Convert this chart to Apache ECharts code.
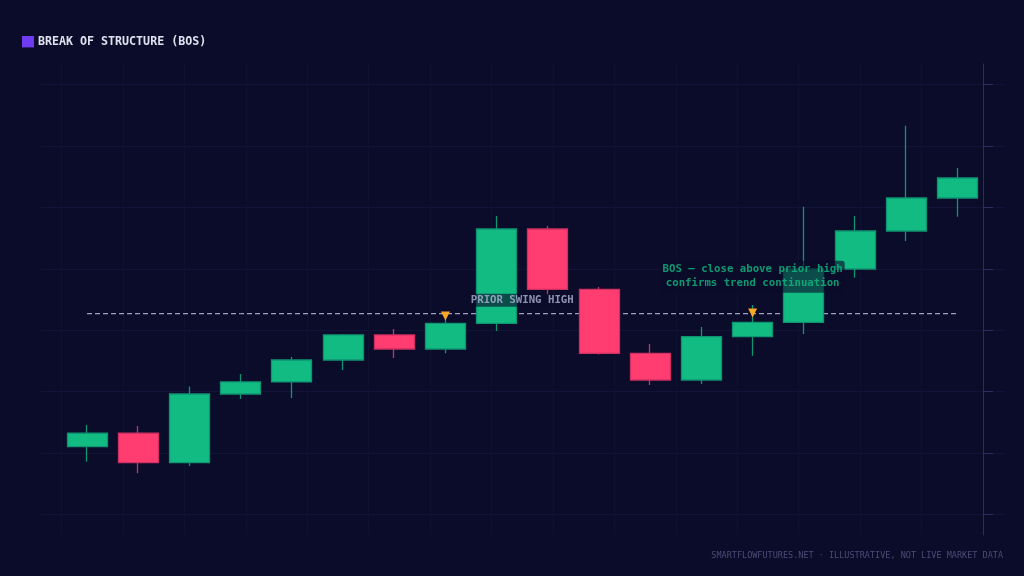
<!DOCTYPE html>
<html><head><meta charset="utf-8">
<style>html,body{margin:0;padding:0;background:#0a0c2a}#c{width:1024px;height:576px}</style>
<script src="https://cdn.jsdelivr.net/npm/echarts@6/dist/echarts.min.js"></script>
</head><body><div id="c"></div>
<script>
const categories = ['C1','C2','C3','C4','C5','C6','C7','C8','C9','C10','C11','C12','C13','C14','C15','C16','C17','C18'];
const opens  = [11.05,13.23, 8.44,19.62,21.58,25.16,29.23,26.95,31.13,46.48,36.66,26.25,21.90,28.95,31.29,39.97,46.15,51.52];
const closes = [13.23, 8.44,19.62,21.58,25.16,29.23,26.95,31.13,46.48,36.66,26.25,21.90,28.95,31.29,39.97,46.15,51.52,54.78];
const lows   = [ 8.60, 6.72, 7.90,18.81,18.97,23.53,25.48,26.25,29.88,35.74,26.05,21.09,21.25,25.86,29.39,38.55,44.52,48.48];
const highs  = [14.58,14.41,20.84,22.88,25.64,29.39,30.20,31.83,48.59,46.97,37.04,27.76,30.53,34.11,50.11,48.59,63.29,56.41];
const swingLevel = 32.69;
const swingMarkers = [['C8',32.32],['C14',32.80]];
const priorLabel = {x:9, y:34.87, text:'PRIOR SWING HIGH'};
const bosLabel = {x:13.5, y:38.72, text:'BOS — close above prior high\nconfirms trend continuation'};
const titleText = 'BREAK OF STRUCTURE (BOS)';
const footerText = 'SMARTFLOWFUTURES.NET · ILLUSTRATIVE, NOT LIVE MARKET DATA';

const MONO = '"DejaVu Sans Mono", monospace';
const BG = '#0a0c2a', GRID = '#111338', AXIS = '#2a2d62';
const UP = '#12bb82', DOWN = '#ff3d71', UPB = '#0f9472', DOWNB = '#d02f62';
const PL = 61.44, PR = 1024-983.04, PT = 84.48, PB = 576-514.56;
const hidden = {axisLine:{show:false},axisTick:{show:false},axisLabel:{show:false},splitLine:{show:false}};

const chart = echarts.init(document.getElementById('c'), null, {renderer:'canvas'});
chart.setOption({
  animation:false,
  backgroundColor:BG,
  title:[
    {text:titleText,left:38,top:36,padding:0,textStyle:{fontFamily:MONO,fontSize:11.65,fontWeight:'bold',color:'#dfe1ee'}},
    {text:footerText,right:21,top:551.5,padding:0,textStyle:{fontFamily:MONO,fontSize:8.5,fontWeight:'normal',color:'#4a4d76'}}
  ],
  graphic:[{type:'rect',shape:{x:22,y:36,width:12,height:11.4},style:{fill:'#6f3cf4'},z:10}],
  grid:[
    {left:PL,right:PR,top:64,bottom:576-535.04},
    {left:41,right:20,top:PT,bottom:PB},
    {left:PL,right:PR,top:PT,bottom:PB}
  ],
  xAxis:[
    {...hidden,gridIndex:0,type:'value',min:0,max:15,interval:1,splitLine:{show:true,lineStyle:{color:'#0f1133',width:1}}},
    {...hidden,gridIndex:1,type:'value',min:0,max:1},
    {...hidden,gridIndex:2,type:'category',data:categories},
    {...hidden,gridIndex:2,type:'value',min:0,max:18}
  ],
  yAxis:[
    {...hidden,gridIndex:0,type:'value',position:'right',min:0,max:1,axisLine:{show:true,onZero:false,lineStyle:{color:AXIS,width:1}}},
    {...hidden,gridIndex:1,type:'value',min:0,max:70,interval:10,splitLine:{show:true,lineStyle:{color:GRID,width:1}}},
    {...hidden,gridIndex:2,type:'value',position:'right',min:0,max:70,interval:10,axisLine:{show:false,onZero:false},axisTick:{show:true,length:10,lineStyle:{color:AXIS,width:1}}}
  ],
  series:[
    {type:'line',xAxisIndex:2,yAxisIndex:2,z:1,silent:true,symbol:'none',
     data:categories.map(c=>[c,swingLevel]),
     lineStyle:{color:'#c6c7e2',width:1,type:[5,3]}},
    {type:'candlestick',xAxisIndex:2,yAxisIndex:2,z:2,barWidth:40.5,
     data:categories.map((c,i)=>[opens[i],closes[i],lows[i],highs[i]]),
     itemStyle:{color:UP,color0:DOWN,borderColor:UPB,borderColor0:DOWNB,borderWidth:1.3}},
    {type:'scatter',xAxisIndex:2,yAxisIndex:2,z:5,symbol:'triangle',symbolRotate:180,symbolSize:9,
     data:swingMarkers,itemStyle:{color:'#f9a825',opacity:1}},
    {type:'scatter',xAxisIndex:3,yAxisIndex:2,z:6,symbol:'circle',symbolSize:1,itemStyle:{color:'rgba(0,0,0,0)'},
     data:[[priorLabel.x,priorLabel.y,priorLabel.text]],
     label:{show:true,position:'inside',formatter:p=>p.data[2],fontFamily:MONO,fontSize:10.7,fontWeight:'bold',color:'#b0b4d6',
       backgroundColor:'rgba(10,12,42,0.78)',padding:[1,1,1,1],borderRadius:2}},
    {type:'scatter',xAxisIndex:3,yAxisIndex:2,z:6,symbol:'circle',symbolSize:1,itemStyle:{color:'rgba(0,0,0,0)'},
     data:[[bosLabel.x,bosLabel.y,bosLabel.text]],
     label:{show:true,position:'inside',formatter:p=>p.data[2],fontFamily:MONO,fontSize:10.7,fontWeight:'bold',lineHeight:14,align:'center',color:'#12bb82',
       backgroundColor:'rgba(10,12,42,0.78)',padding:[2,2,2,2],borderRadius:3}}
  ]
});
</script></body></html>
